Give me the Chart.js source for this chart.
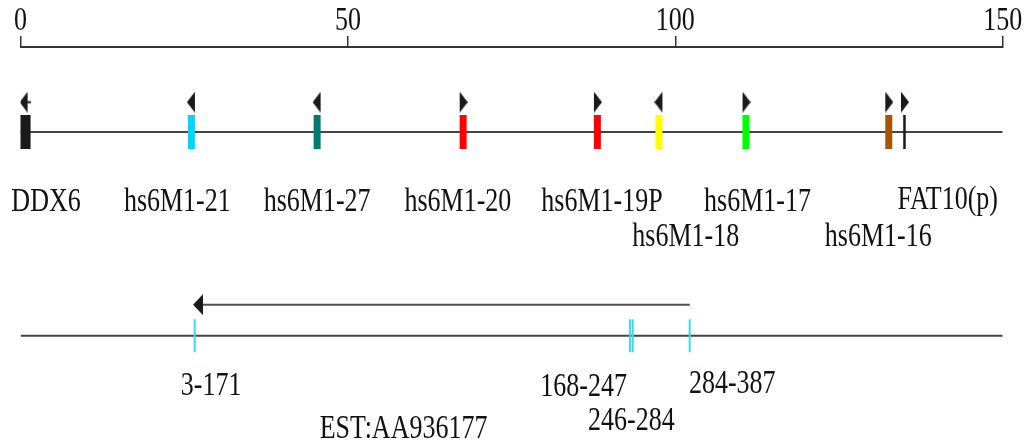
<!DOCTYPE html>
<html>
<head>
<meta charset="utf-8">
<title>Gene map</title>
<script src="https://cdn.jsdelivr.net/npm/chart.js@4.4.1/dist/chart.umd.min.js"></script>
<style>
    html, body { margin: 0; padding: 0; background: #fff; }
    #wrap { width: 1026px; height: 441px; position: relative; }
</style>
</head>
<body>
<div id="wrap"><canvas id="geneMap"></canvas></div>
<script>
// scale ticks (kb)
const axisTicks = [0, 50, 100, 150];

// genes on the top track
const geneNames = ['DDX6', 'hs6M1-21', 'hs6M1-27', 'hs6M1-20', 'hs6M1-19P', 'hs6M1-18', 'hs6M1-17', 'hs6M1-16', 'FAT10(p)'];
const genePos = [0.7, 26.1, 45.3, 67.6, 88.1, 97.5, 110.8, 132.6, 135.0];
const geneStrand = ['-', '-', '-', '+', '+', '-', '+', '+', '+'];
const geneColors = ['#1a1a1a', '#00d4ff', '#007a74', '#ff0000', '#ff0000', '#ffff00', '#00ff00', '#a8530a', '#1a1a1a'];
const geneLabelX = [3.9, 23.95, 45.3, 66.8, 88.8, 101.6, 112.55, 131.0, 141.6];
const geneLabelY = [41.6, 41.6, 41.6, 41.6, 41.6, 50.5, 41.6, 50.5, 41.0];

// EST AA936177 exons
const estNames = ['3-171', '168-247', '246-284', '284-387'];
const estPos = [26.6, 93.1, 93.5, 102.2];
const estLabelX = [29.1, 86.0, 93.3, 108.7];
const estLabelY = [88.3, 88.7, 97.2, 87.9];
const estTitle = 'EST:AA936177';
const estSpan = [102.2, 27.1];

// track rows (y scale units, 0 = axis)
const trackY = 21.6;
const strandY = 14.0;
const estY = 73.3;
const estArrowY = 65.4;

function makeArrow(dir, stem) {
    const c = document.createElement('canvas');
    c.width = stem ? 11 : 9;
    c.height = 21;
    const g = c.getContext('2d');
    g.fillStyle = '#1a1a1a';
    g.beginPath();
    if (dir === '-') {
        g.moveTo(0, 10.5);
        g.lineTo(8, 0);
        g.lineTo(8, 21);
    } else {
        g.moveTo(9, 10.5);
        g.lineTo(1, 0);
        g.lineTo(1, 21);
    }
    g.closePath();
    g.fill();
    if (stem) g.fillRect(7, 9.5, 4, 2);
    return c;
}

const leftArrow = makeArrow('-', false);
const rightArrow = makeArrow('+', false);
const leftStemArrow = makeArrow('-', true);
const estHead = (function () {
    const c = document.createElement('canvas');
    c.width = 10;
    c.height = 21;
    const g = c.getContext('2d');
    g.fillStyle = '#1a1a1a';
    g.beginPath();
    g.moveTo(0, 10.5);
    g.lineTo(10, 0);
    g.lineTo(10, 21);
    g.closePath();
    g.fill();
    return c;
})();

const textFont = "26px 'Liberation Serif', 'Times New Roman', serif";
const stretchY = 1.3;

function drawText(ctx, text, x, y) {
    ctx.save();
    ctx.translate(x, y);
    ctx.scale(1, stretchY);
    ctx.fillText(text, 0, 0);
    ctx.restore();
}

const labelPlugin = {
    id: 'labels',
    afterDraw(chart) {
        const ctx = chart.ctx;
        const xs = chart.scales.x;
        const ys = chart.scales.y;
        ctx.save();
        ctx.font = textFont;
        ctx.fillStyle = '#111';
        ctx.textAlign = 'center';
        ctx.textBaseline = 'alphabetic';

        // axis numbers sit above the tick marks
        xs.ticks.forEach((t, i) => {
            drawText(ctx, String(t.value), xs.getPixelForTick(i), 30);
        });

        geneNames.forEach((name, i) => {
            drawText(ctx, name, xs.getPixelForValue(geneLabelX[i]), ys.getPixelForValue(geneLabelY[i]));
        });
        estNames.forEach((name, i) => {
            drawText(ctx, name, xs.getPixelForValue(estLabelX[i]), ys.getPixelForValue(estLabelY[i]));
        });
        drawText(ctx, estTitle, xs.getPixelForValue(58.5), ys.getPixelForValue(99.2));
        ctx.restore();
    }
};

document.addEventListener('DOMContentLoaded', function () {
    const canvas = document.getElementById('geneMap');

    new Chart(canvas, {
        type: 'scatter',
        data: {
            datasets: [
                {
                    label: 'genes',
                    data: genePos.map(x => ({ x: x, y: trackY })),
                    pointStyle: 'line',
                    rotation: 90,
                    pointRadius: 17,
                    pointBorderWidth: geneNames.map(n => n === 'DDX6' ? 11 : (n === 'FAT10(p)' ? 2.5 : 7)),
                    pointBorderColor: geneColors,
                    pointBackgroundColor: geneColors,
                    order: 0
                },
                {
                    label: 'strand',
                    data: genePos.map(x => ({ x: x, y: strandY })),
                    pointStyle: geneStrand.map((s, i) => s === '+' ? rightArrow : (i === 0 ? leftStemArrow : leftArrow)),
                    pointRadius: 5,
                    order: 0
                },
                {
                    label: 'exons',
                    data: estPos.map(x => ({ x: x, y: estY })),
                    pointStyle: 'line',
                    rotation: 90,
                    pointRadius: 16.5,
                    pointBorderWidth: 2,
                    pointBorderColor: '#3fd8f2',
                    order: 0
                },
                {
                    label: 'est head',
                    data: [{ x: estSpan[1], y: estArrowY }],
                    pointStyle: estHead,
                    pointRadius: 5,
                    order: 0
                },
                {
                    label: 'est direction',
                    data: [{ x: estSpan[0], y: estArrowY }, { x: estSpan[1] + 0.5, y: estArrowY }],
                    showLine: true,
                    borderColor: '#505050',
                    borderWidth: 2,
                    pointRadius: 0,
                    order: 2
                },
                {
                    label: 'chromosome',
                    data: [{ x: axisTicks[0], y: trackY }, { x: axisTicks[axisTicks.length - 1], y: trackY }],
                    showLine: true,
                    borderColor: '#444',
                    borderWidth: 2,
                    pointRadius: 0,
                    order: 2
                },
                {
                    label: 'est',
                    data: [{ x: axisTicks[0], y: estY }, { x: axisTicks[axisTicks.length - 1], y: estY }],
                    showLine: true,
                    borderColor: '#444',
                    borderWidth: 2,
                    pointRadius: 0,
                    order: 2
                }
            ]
        },
        options: {
            responsive: true,
            maintainAspectRatio: false,
            animation: false,
            events: [],
            layout: {
                autoPadding: false,
                padding: { top: 36, left: 20.5, right: 23.3, bottom: 0 }
            },
            scales: {
                x: {
                    type: 'linear',
                    position: 'top',
                    min: axisTicks[0],
                    max: axisTicks[axisTicks.length - 1],
                    afterBuildTicks: function (scale) {
                        scale.ticks = axisTicks.map(v => ({ value: v }));
                    },
                    ticks: { display: false },
                    grid: {
                        drawOnChartArea: false,
                        drawTicks: true,
                        tickLength: 11,
                        color: '#333',
                        lineWidth: 1.5
                    },
                    border: { display: true, color: '#333', width: 2 }
                },
                y: {
                    type: 'linear',
                    display: false,
                    min: 0,
                    max: 100,
                    reverse: true
                }
            },
            plugins: {
                legend: { display: false },
                tooltip: { enabled: false }
            }
        },
        plugins: [labelPlugin]
    });
});
</script>
</body>
</html>
